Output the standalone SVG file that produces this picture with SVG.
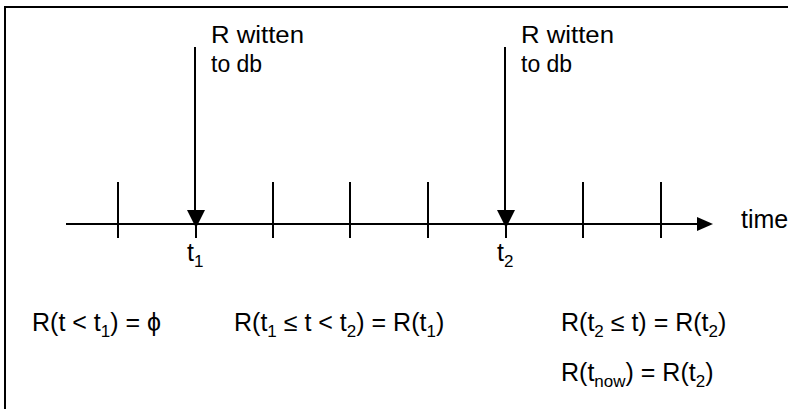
<svg xmlns="http://www.w3.org/2000/svg" width="788" height="409" viewBox="0 0 788 409">
<defs>
<style>
text{font-family:"Liberation Sans",Arial,sans-serif;fill:#000}
.lbl{font-size:23px}
.eq{font-size:25px}
.sub{font-size:17px}
.tick{stroke:#000;stroke-width:2}
.ln{stroke:#000;stroke-width:2;fill:none}
</style>
</defs>
<rect width="788" height="409" fill="#fff"/>
<g id="frame">
<path class="ln" d="M5,410 V7 H790" stroke-width="2.5"/>
</g>
<g id="connectors">
<line class="ln" x1="66" y1="224" x2="699" y2="224"/>
<polygon points="697,217 713,224 697,231" fill="#000"/>
<line class="ln" x1="195" y1="47" x2="195" y2="214"/>
<polygon points="187,210 205,210 196,228" fill="#000"/>
<line class="ln" x1="505" y1="47" x2="505" y2="214"/>
<polygon points="497,210 515,210 506,228" fill="#000"/>
</g>
<g id="ticks">
<line class="tick" x1="118" y1="182" x2="118" y2="238"/>
<line class="tick" x1="196" y1="224" x2="196" y2="238"/>
<line class="tick" x1="273" y1="182" x2="273" y2="238"/>
<line class="tick" x1="350" y1="182" x2="350" y2="238"/>
<line class="tick" x1="428" y1="182" x2="428" y2="238"/>
<line class="tick" x1="506" y1="224" x2="506" y2="238"/>
<line class="tick" x1="583" y1="182" x2="583" y2="238"/>
<line class="tick" x1="661" y1="182" x2="661" y2="238"/>
</g>
<g id="event1">
<text class="lbl" x="211" y="43" textLength="93" lengthAdjust="spacingAndGlyphs">R witten</text>
<text class="lbl" x="211" y="72">to db</text>
</g>
<g id="event2">
<text class="lbl" x="521" y="43" textLength="93" lengthAdjust="spacingAndGlyphs">R witten</text>
<text class="lbl" x="521" y="72">to db</text>
</g>
<g id="t1"><text class="eq" x="187" y="261">t<tspan class="sub" dy="6">1</tspan></text></g>
<g id="t2"><text class="eq" x="497" y="261">t<tspan class="sub" dy="6">2</tspan></text></g>
<g id="time"><text class="eq" x="741" y="228">time</text></g>
<g id="eq1"><text class="eq" x="32" y="331">R(t &lt; t<tspan class="sub" dy="6">1</tspan><tspan dy="-6">) = ϕ</tspan></text></g>
<g id="eq2"><text class="eq" x="234" y="331">R(t<tspan class="sub" dy="6">1</tspan><tspan dy="-6"> ≤ t &lt; t</tspan><tspan class="sub" dy="6">2</tspan><tspan dy="-6">) = R(t</tspan><tspan class="sub" dy="6">1</tspan><tspan dy="-6">)</tspan></text></g>
<g id="eq3"><text class="eq" x="561" y="331">R(t<tspan class="sub" dy="6">2</tspan><tspan dy="-6"> ≤ t) = R(t</tspan><tspan class="sub" dy="6">2</tspan><tspan dy="-6">)</tspan></text></g>
<g id="eq4"><text class="eq" x="561" y="381">R(t<tspan class="sub" dy="6">now</tspan><tspan dy="-6">) = R(t</tspan><tspan class="sub" dy="6">2</tspan><tspan dy="-6">)</tspan></text></g>
</svg>
